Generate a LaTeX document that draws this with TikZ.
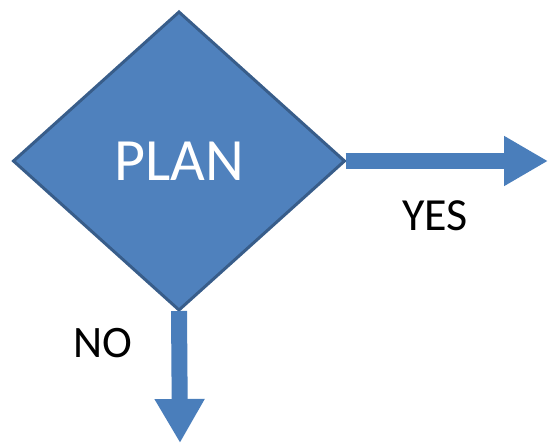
\documentclass[tikz,border=0pt]{standalone}
\usepackage{fontspec}
\setmainfont{Carlito}
\usetikzlibrary{shapes.geometric,arrows.meta}
\definecolor{fillblue}{HTML}{4F81BD}
\definecolor{edgeblue}{HTML}{385D8A}
\definecolor{arrowblue}{HTML}{4A7EBB}
\tikzset{
  decision/.style={diamond, draw=edgeblue, fill=fillblue, line width=3pt,
    minimum width=331pt, minimum height=298pt, inner sep=0pt, outer sep=0pt,
    text=white, font=\fontsize{60}{60}\selectfont},
  bigarrow/.style={draw=arrowblue, line width=16pt,
    -{Triangle[length=44pt,width=47pt]}},
  answer/.style={text=black, inner sep=0pt, font=\fontsize{46}{46}\selectfont}
}
\begin{document}
\begin{tikzpicture}[x=1pt,y=-1pt]
\useasboundingbox (0,0) rectangle (548,443);
\coordinate (yesend) at (548,161);
\coordinate (noend) at (180,443);
\node[decision] (plan) at (179,161) {PLAN};
\draw[bigarrow] ([xshift=1pt]plan.east) -- (yesend);
\draw[bigarrow] ([yshift=-1pt]plan.south) -- (noend);
\node[answer] (yes) at (435,216) {YES};
\node[answer, font=\fontsize{45}{45}\selectfont] (no) at (103,343) {NO};
\end{tikzpicture}
\end{document}
